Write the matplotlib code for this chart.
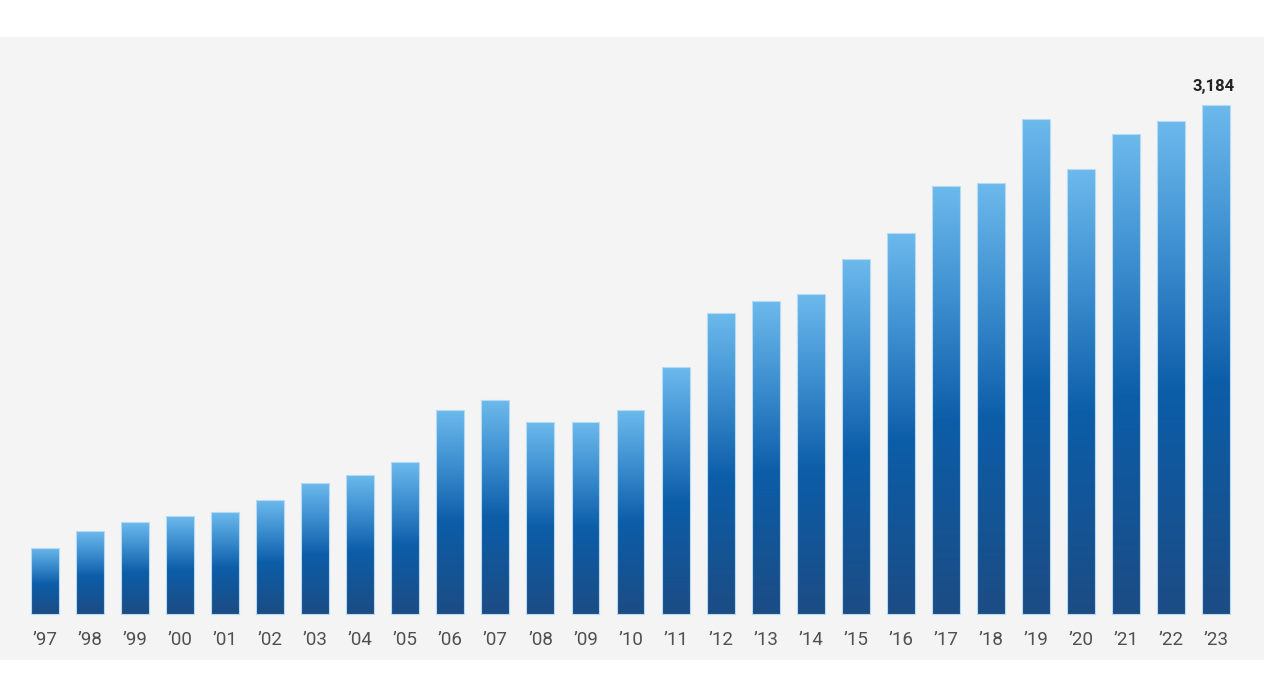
import numpy as np
import matplotlib.pyplot as plt
from matplotlib.colors import LinearSegmentedColormap

years = ["’97", "’98", "’99", "’00", "’01", "’02", "’03", "’04", "’05", "’06",
         "’07", "’08", "’09", "’10", "’11", "’12", "’13", "’14", "’15", "’16",
         "’17", "’18", "’19", "’20", "’21", "’22", "’23"]
values = [413, 519, 575, 613, 638, 713, 819, 869, 951, 1276,
          1339, 1201, 1201, 1276, 1545, 1883, 1958, 2002, 2221, 2383,
          2677, 2696, 3096, 2783, 3002, 3084, 3184]

plt.rcParams['font.family'] = ['Roboto', 'DejaVu Sans']

fig = plt.figure(figsize=(12.64, 6.99), dpi=100)
fig.patch.set_facecolor('white')
ax = fig.add_axes([0, 0.0558, 1, 0.891])
ax.set_facecolor('#f4f4f4')

# vertical gradient per bar: bottom -> top
cmap = LinearSegmentedColormap.from_list(
    'bars', [(0.0, '#1c4c84'), (0.45, '#0c5da8'), (0.72, '#3a8cce'), (1.0, '#6cb9ec')])
grad = np.linspace(0, 1, 256).reshape(-1, 1)

x = np.arange(len(values))
bars = ax.bar(x, values, width=0.62, color='none', edgecolor='#b5daf3', linewidth=0.8, zorder=3)
for b in bars:
    x0, w, h = b.get_x(), b.get_width(), b.get_height()
    im = ax.imshow(grad, cmap=cmap, aspect='auto', origin='lower',
                   extent=[x0, x0 + w, 0, h], zorder=2)
    im.set_clip_path(b)

for i, lab in enumerate(years):
    ax.text(x[i], -163, lab, ha='center', va='center', fontsize=13.5, color='#505050')

ax.text(x[-1] - 0.05, values[-1] + 72, f"{values[-1]:,}", ha='center', va='bottom',
        fontsize=12, fontweight='bold', color='#222222')

ax.set_xlim(-1.0, 27.066)
ax.set_ylim(-288, 3609)
ax.set_xticks([])
ax.set_yticks([])
for s in ax.spines.values():
    s.set_visible(False)

fig.savefig('out.png', dpi=100, facecolor='white')
